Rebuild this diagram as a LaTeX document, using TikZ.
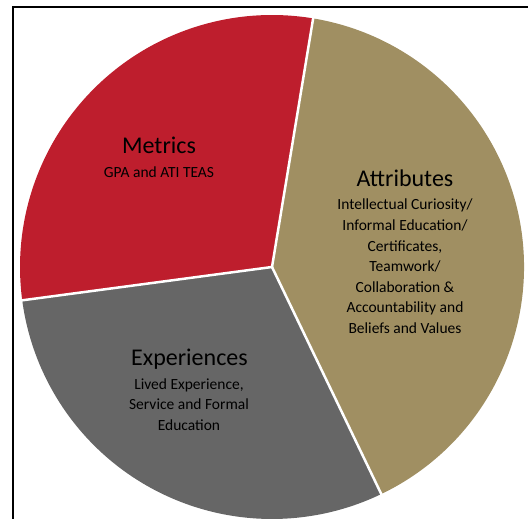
\documentclass[tikz,border=0pt]{standalone}
\usepackage{fontspec}
\setmainfont{Carlito}
\definecolor{metricred}{HTML}{BE1E2D}
\definecolor{attrtan}{HTML}{A08F62}
\definecolor{expgray}{HTML}{666666}
\begin{document}
\begin{tikzpicture}[x=1pt,y=1pt]
\tikzstyle{slice} = [draw=white, line width=2.5pt, line cap=round]
\tikzstyle{title} = [anchor=base, inner sep=0pt, font=\fontsize{24}{28}\selectfont]
\tikzstyle{body} = [anchor=base, inner sep=0pt, align=center, font=\fontsize{15.5}{20.6}\selectfont]
\clip (0,0) rectangle (528,519);
\draw[line width=2pt] (13,-10) -- (13,512) -- (540,512);
\coordinate (ctr) at (272,252);
\fill[metricred] (ctr) -- ++(80.6:252) arc[start angle=80.6, end angle=187.6, radius=252] -- cycle;
\fill[expgray] (ctr) -- ++(187.6:252) arc[start angle=187.6, end angle=295.7, radius=252] -- cycle;
\fill[attrtan] (ctr) -- ++(-64.3:252) arc[start angle=-64.3, end angle=80.6, radius=252] -- cycle;
\draw[slice] (ctr) -- ++(80.6:254);
\draw[slice] (ctr) -- ++(187.6:254);
\draw[slice] (ctr) -- ++(-64.3:254);
% body anchors sit on the last line
\path
    (159,365) node[title] (metrics) {Metrics}
    (159,341) node[body] (metricsbody) {GPA and ATI TEAS}
    (405,332.3) node[title] (attributes) {Attributes}
    (405,185.4) node[body] (attributesbody) {Intellectual Curiosity/\\Informal Education/\\Certificates,\\Teamwork/\\Collaboration \&\\Accountability and\\Beliefs and Values}
    (189.5,153.3) node[title] (experiences) {Experiences}
    (189,88.5) node[body] (experiencesbody) {Lived Experience,\\Service and Formal\\Education};
\end{tikzpicture}
\end{document}
